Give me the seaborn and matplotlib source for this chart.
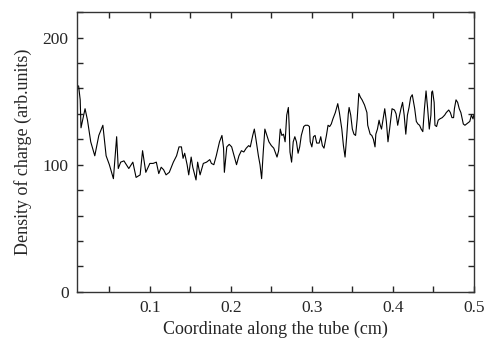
import numpy as np
import pandas as pd
import seaborn as sns
import matplotlib.pyplot as plt
from matplotlib.ticker import MultipleLocator

# coordinate along the tube (cm)
coord = [0.012, 0.014, 0.015, 0.017, 0.020, 0.023, 0.027, 0.032, 0.037, 0.042,
         0.046, 0.050, 0.055, 0.059, 0.061, 0.064, 0.068, 0.074, 0.079, 0.083,
         0.088, 0.091, 0.095, 0.100, 0.104, 0.108, 0.111, 0.114, 0.117, 0.120,
         0.124, 0.129, 0.133, 0.136, 0.139, 0.141, 0.143, 0.146, 0.148, 0.151,
         0.153, 0.157, 0.159, 0.162, 0.166, 0.170, 0.174, 0.176, 0.179, 0.182,
         0.186, 0.189, 0.191, 0.192, 0.195, 0.198, 0.201, 0.204, 0.207, 0.210,
         0.213, 0.216, 0.219, 0.222, 0.224, 0.227, 0.229, 0.231, 0.234, 0.236,
         0.238, 0.240, 0.242, 0.244, 0.247, 0.250, 0.253, 0.257, 0.259, 0.261,
         0.263, 0.265, 0.267, 0.269, 0.271, 0.272, 0.273, 0.275, 0.277, 0.279,
         0.281, 0.283, 0.285, 0.287, 0.290, 0.292, 0.295, 0.297, 0.298, 0.300,
         0.302, 0.304, 0.306, 0.309, 0.311, 0.313, 0.315, 0.318, 0.320, 0.322,
         0.324, 0.326, 0.329, 0.332, 0.334, 0.337, 0.339, 0.341, 0.343, 0.345,
         0.346, 0.348, 0.350, 0.352, 0.354, 0.356, 0.358, 0.360, 0.362, 0.365,
         0.368, 0.369, 0.372, 0.374, 0.376, 0.378, 0.379, 0.381, 0.383, 0.384,
         0.386, 0.388, 0.390, 0.392, 0.394, 0.396, 0.399, 0.402, 0.404, 0.406,
         0.408, 0.410, 0.412, 0.414, 0.416, 0.418, 0.420, 0.422, 0.424, 0.427,
         0.429, 0.431, 0.433, 0.435, 0.437, 0.439, 0.441, 0.443, 0.445, 0.447,
         0.448, 0.449, 0.451, 0.452, 0.454, 0.456, 0.458, 0.461, 0.464, 0.466,
         0.469, 0.471, 0.473, 0.475, 0.476, 0.478, 0.480, 0.482, 0.484, 0.487,
         0.489, 0.491, 0.495, 0.497, 0.499, 0.500]

# density of charge (arb. units)
density = [162, 151, 129, 135, 144, 135, 118, 107, 123, 131,
           107, 100, 89, 122, 97, 102, 103, 97, 102, 90,
           92, 111, 94, 101, 101, 102, 93, 98, 96, 92,
           94, 102, 107, 114, 114, 105, 109, 100, 92, 106,
           98, 88, 102, 92, 101, 102, 104, 101, 100, 107,
           118, 123, 113, 94, 114, 116, 114, 107, 100, 107,
           111, 110, 113, 115, 114, 123, 128, 120, 107, 100,
           89, 110, 128, 124, 118, 115, 113, 106, 111, 128,
           123, 124, 118, 139, 145, 131, 110, 102, 118, 122,
           118, 109, 114, 123, 130, 131, 131, 130, 118, 114,
           122, 123, 117, 117, 122, 115, 113, 123, 131, 130,
           132, 136, 141, 148, 141, 128, 115, 106, 122, 140,
           145, 139, 128, 124, 123, 136, 156, 153, 151, 147,
           141, 131, 124, 123, 120, 114, 124, 128, 135, 132,
           128, 136, 144, 134, 118, 128, 144, 143, 140, 131,
           138, 144, 149, 139, 124, 139, 145, 153, 155, 144,
           134, 132, 131, 128, 126, 144, 158, 144, 128, 139,
           157, 158, 149, 131, 130, 135, 136, 137, 139, 141,
           143, 141, 137, 137, 144, 151, 149, 144, 141, 132,
           131, 132, 134, 139, 136, 139]

df = pd.DataFrame({"coord": coord, "density": density})

sns.set_style("ticks")
plt.rcParams["font.family"] = ["Liberation Serif", "DejaVu Serif"]
plt.rcParams["mathtext.fontset"] = "stix"

fig = plt.figure(figsize=(4.84, 3.45), dpi=100)
ax = fig.add_axes([0.159, 0.154, 0.82, 0.811])

sns.lineplot(data=df, x="coord", y="density", estimator=None, sort=False,
             color="black", linewidth=0.8, ax=ax)

ax.set_xlim(0.01, 0.5)
ax.set_ylim(0, 220)
ax.xaxis.set_major_locator(MultipleLocator(0.1))
ax.xaxis.set_minor_locator(MultipleLocator(0.05))
ax.yaxis.set_major_locator(MultipleLocator(100))
ax.yaxis.set_minor_locator(MultipleLocator(20))
ax.set_xticks([0.1, 0.2, 0.3, 0.4, 0.5])
ax.set_xticklabels(["0.1", "0.2", "0.3", "0.4", "0.5"])

ax.tick_params(which="both", direction="in", top=True, right=True,
               width=1.0, labelsize=12.5, pad=6)
ax.tick_params(which="major", length=4)
ax.tick_params(which="minor", length=4)
for s in ax.spines.values():
    s.set_linewidth(1.0)
    s.set_color("#333333")

ax.set_xlabel("Coordinate along the tube (cm)", fontsize=13, labelpad=3)
ax.set_ylabel("Density of charge (arb.units)", fontsize=13, labelpad=8)

fig.savefig("out.png", dpi=100)
